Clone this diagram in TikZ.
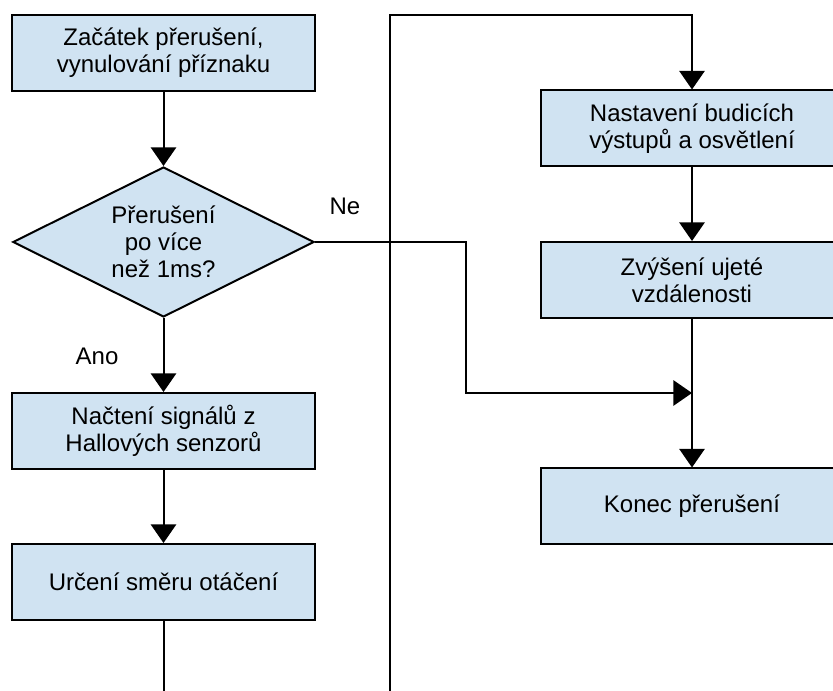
\documentclass[tikz,border=0pt]{standalone}
\usepackage{fontspec}
\setmainfont{Liberation Sans}
\usetikzlibrary{shapes.geometric,arrows.meta}
\definecolor{boxblue}{RGB}{208,227,242}
\begin{document}
\begin{tikzpicture}[x=0.75pt,y=0.75pt,yscale=-1,xscale=1,
        font=\fontsize{18}{20.25}\selectfont,
        proc/.style={draw=black,line width=1.5pt,fill=boxblue,minimum width=227pt,minimum height=57pt,align=center,inner sep=0pt},
        decide/.style={diamond,draw=black,line width=1.5pt,fill=boxblue,minimum width=226pt,minimum height=112.5pt,aspect=2,align=center,inner sep=0pt},
        arr/.style={line width=1.5pt,-{Triangle[width=19pt,length=14pt]}},
        line/.style={line width=1.5pt}]
                        % set diagram size 833 x 691
                        \clip (0,0) rectangle (833,691);

                        %Flowchart: Process 
                        \node [proc] (start) at (163.5,53) {Začátek přerušení,\\vynulování příznaku};
                        %Flowchart: Decision 
                        \node [decide] (dec) at (163.5,242) {Přerušení\\po více\\než 1ms?};
                        %Flowchart: Process 
                        \node [proc] (hall) at (163.5,431) {Načtení signálů z\\Hallových senzorů};
                        %Flowchart: Process 
                        \node [proc] (smer) at (163.5,582) {Určení směru otáčení};
                        %Flowchart: Process 
                        \node [proc] (nast) at (692,128.5) {Nastavení budicích\\výstupů a osvětlení};
                        %Flowchart: Process 
                        \node [proc] (zvys) at (692,280) {Zvýšení ujeté\\vzdálenosti};
                        %Flowchart: Process 
                        \node [proc] (konec) at (692,506.5) {Konec přerušení};

                        % Text Node
                        \node (ne) at (345,206) {Ne};
                        % Text Node
                        \node (ano) at (97,356) {Ano};

                        % Points
                        \coordinate (leftend) at (163.5,700);
                        \coordinate (loopend) at (390,700);
                        \coordinate (looptop) at (390,15);
                        \coordinate (bend) at (466,242);
                        \coordinate (join) at (692,393);

                        %Straight Lines 
                        \draw [arr] (start) -- (dec);
                        \draw [arr] (dec) -- (hall);
                        \draw [arr] (hall) -- (smer);
                        \draw [line] (smer) -- (leftend);
                        \draw [arr] (loopend) -- (looptop) -| (nast);
                        \draw [arr] (nast) -- (zvys);
                        \draw [arr] (zvys) -- (konec);
                        \draw [arr] (dec.east) -- (bend) |- (join);
\end{tikzpicture}
\end{document}
